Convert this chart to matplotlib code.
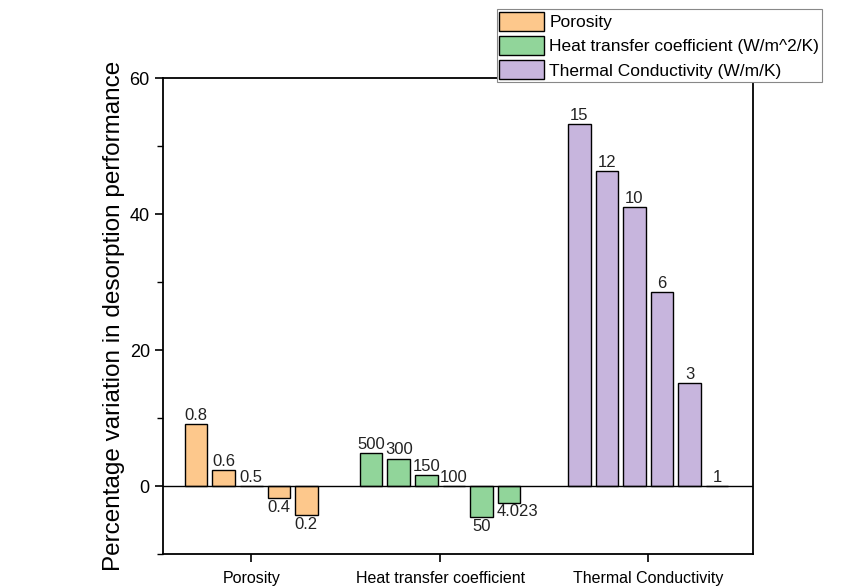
import matplotlib
matplotlib.use("Agg")
import matplotlib.pyplot as plt
from matplotlib.ticker import MultipleLocator

plt.rcParams["font.family"] = ["Liberation Sans", "DejaVu Sans"]

# data
categories = ["Porosity", "Heat transfer coefficient", "Thermal Conductivity"]
legend_labels = ["Porosity", "Heat transfer coefficient (W/m^2/K)",
                 "Thermal Conductivity (W/m/K)"]

porosity_labels = ["0.8", "0.6", "0.5", "0.4", "0.2"]
porosity_vals = [9.1, 2.35, 0.0, -1.8, -4.3]

htc_labels = ["500", "300", "150", "100", "50", "4.023"]
htc_vals = [4.85, 4.0, 1.6, 0.0, -4.6, -2.5]

tc_labels = ["15", "12", "10", "6", "3", "1"]
tc_vals = [53.2, 46.3, 41.0, 28.5, 15.1, 0.0]

colors = ["#FDC88C", "#91D59A", "#C7B5DD"]

# layout: bar slot positions per group
starts = [0.0, 6.35, 13.9]
WIDTH = 0.82

fig = plt.figure(figsize=(8.59, 5.87), dpi=100)
ax = fig.add_axes([0.1898, 0.0562, 0.6868, 0.8109])

groups = [(porosity_vals, porosity_labels), (htc_vals, htc_labels), (tc_vals, tc_labels)]
handles = []
tick_pos = []
for (vals, labs), s, c, lab in zip(groups, starts, colors, legend_labels):
    xs = [s + i for i in range(len(vals))]
    bars = ax.bar(xs, vals, width=WIDTH, color=c, edgecolor="black", linewidth=1.0,
                  label=lab, zorder=2)
    texts = ax.bar_label(bars, labels=labs, padding=1, fontsize=12, color="#222222")
    if labs is htc_labels:
        # the 4.023 label sits left-aligned under its bar in the original
        t = texts[-1]
        t.set_horizontalalignment("left")
        t.xyann = (-9, t.xyann[1])
    handles.append(bars)
    tick_pos.append((xs[0] + xs[-1]) / 2)

ax.axhline(0, color="black", lw=1.0, zorder=3)

ax.set_xlim(-1.2, 20.2)
ax.set_ylim(-10, 60)
ax.yaxis.set_major_locator(MultipleLocator(20))
ax.yaxis.set_minor_locator(MultipleLocator(10))
ax.set_yticks([0, 20, 40, 60])
ax.set_xticks(tick_pos)
ax.set_xticklabels(categories, fontsize=11.5)
ax.tick_params(axis="y", which="major", direction="out", length=6, width=1.2, labelsize=13)
ax.tick_params(axis="y", which="minor", direction="out", length=4, width=1.0)
ax.tick_params(axis="x", direction="out", length=6, width=1.2, pad=6)
for sp in ax.spines.values():
    sp.set_linewidth(1.3)
ax.set_ylabel("Percentage variation in desorption performance", fontsize=17.5, labelpad=3)

leg = fig.legend(handles=handles, labels=legend_labels, loc="upper left",
                 bbox_to_anchor=(0.578, 0.984), fontsize=12.5, fancybox=False,
                 edgecolor="#888888", framealpha=1, borderpad=0.15,
                 labelspacing=0.3, handlelength=2.6, handleheight=1.3,
                 handletextpad=0.3, borderaxespad=0)
leg.get_frame().set_linewidth(0.8)

fig.savefig("out.png", dpi=100, facecolor="white")
